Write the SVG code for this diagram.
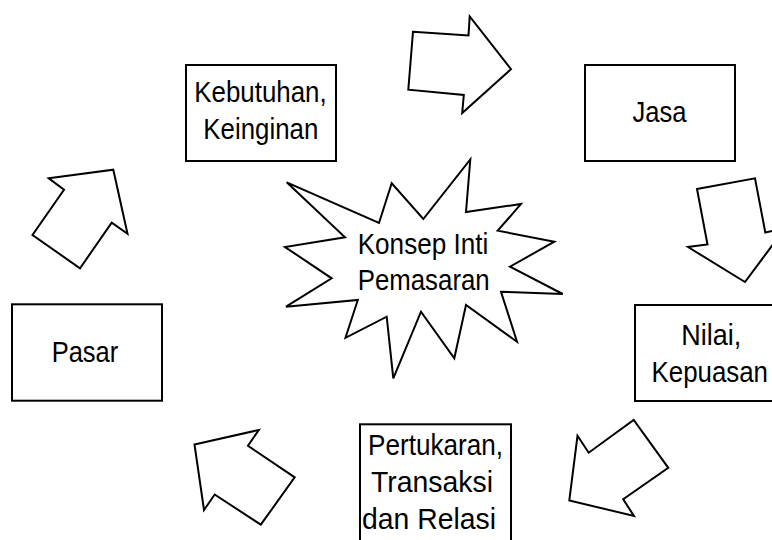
<svg xmlns="http://www.w3.org/2000/svg" width="772" height="540" viewBox="0 0 772 540">
<style>
.box{fill:#fff;stroke:#000;stroke-width:2}
.shape{fill:#fff;stroke:#000;stroke-width:2;stroke-linejoin:miter}
.t{font-family:"Liberation Sans",Arial,sans-serif;font-size:29.5px;fill:#000}
</style>
<rect width="772" height="540" fill="#fff"/>
<g id="connectors">
<polygon class="shape" points="413,31.7 468.5,35.5 469.7,16.5 511,69.2 462.2,113 463.8,95 408.3,89.7"/>
<polygon class="shape" points="697,189 755,178.3 765.3,232.5 785,228.3 745,282 688,247 707.5,244.5"/>
<polygon class="shape" points="577.5,435.8 588.7,452.7 633.7,420 668.3,467.8 623.2,499.3 634,516 569.3,500.4"/>
<polygon class="shape" points="194.5,444.5 258.8,430 248,445.8 294.7,477.3 260.8,524.7 214.7,494.5 204,510"/>
<polygon class="shape" points="48.8,178.3 113.3,169.7 127.5,233.8 111.7,222.7 80,268.3 32.5,235 64,189.7"/>
</g>
<g id="center">
<polygon class="shape" points="286.7,182.3 379,223 391.7,183.3 423.3,219 470.3,159.5 466,212 521,204 497.7,230.7 554.3,241.7 510,266.7 562.7,294 501,291.7 517,341.7 466,305 454.3,358.3 421,311.7 393.3,378.3 386.7,316.7 345.5,337.8 357.8,300 286,306.7 331.7,278.3 285,247 345,237.3"/>
<text class="t" x="357.7" y="254" textLength="130.6" lengthAdjust="spacingAndGlyphs">Konsep Inti</text>
<text class="t" x="357.7" y="290" textLength="132" lengthAdjust="spacingAndGlyphs">Pemasaran</text>
</g>
<g id="kebutuhan">
<rect class="box" x="186" y="65" width="150" height="96"/>
<text class="t" x="194.3" y="102.3" textLength="132.4" lengthAdjust="spacingAndGlyphs">Kebutuhan,</text>
<text class="t" x="203.3" y="139.3" textLength="115" lengthAdjust="spacingAndGlyphs">Keinginan</text>
</g>
<g id="jasa">
<rect class="box" x="585" y="65" width="150" height="96"/>
<text class="t" x="632.5" y="122.3" textLength="54" lengthAdjust="spacingAndGlyphs">Jasa</text>
</g>
<g id="nilai">
<rect class="box" x="635" y="305" width="150" height="96"/>
<text class="t" x="681.3" y="345" textLength="60" lengthAdjust="spacingAndGlyphs">Nilai,</text>
<text class="t" x="651.5" y="382" textLength="116.5" lengthAdjust="spacingAndGlyphs">Kepuasan</text>
</g>
<g id="pertukaran">
<rect class="box" x="360" y="424.3" width="151" height="125"/>
<text class="t" x="368" y="455" textLength="135" lengthAdjust="spacingAndGlyphs">Pertukaran,</text>
<text class="t" x="371" y="492" textLength="122" lengthAdjust="spacingAndGlyphs">Transaksi</text>
<text class="t" x="362" y="529" textLength="134" lengthAdjust="spacingAndGlyphs">dan Relasi</text>
</g>
<g id="pasar">
<rect class="box" x="12" y="304.3" width="150" height="96.4"/>
<text class="t" x="51.7" y="362" textLength="66.6" lengthAdjust="spacingAndGlyphs">Pasar</text>
</g>
</svg>
